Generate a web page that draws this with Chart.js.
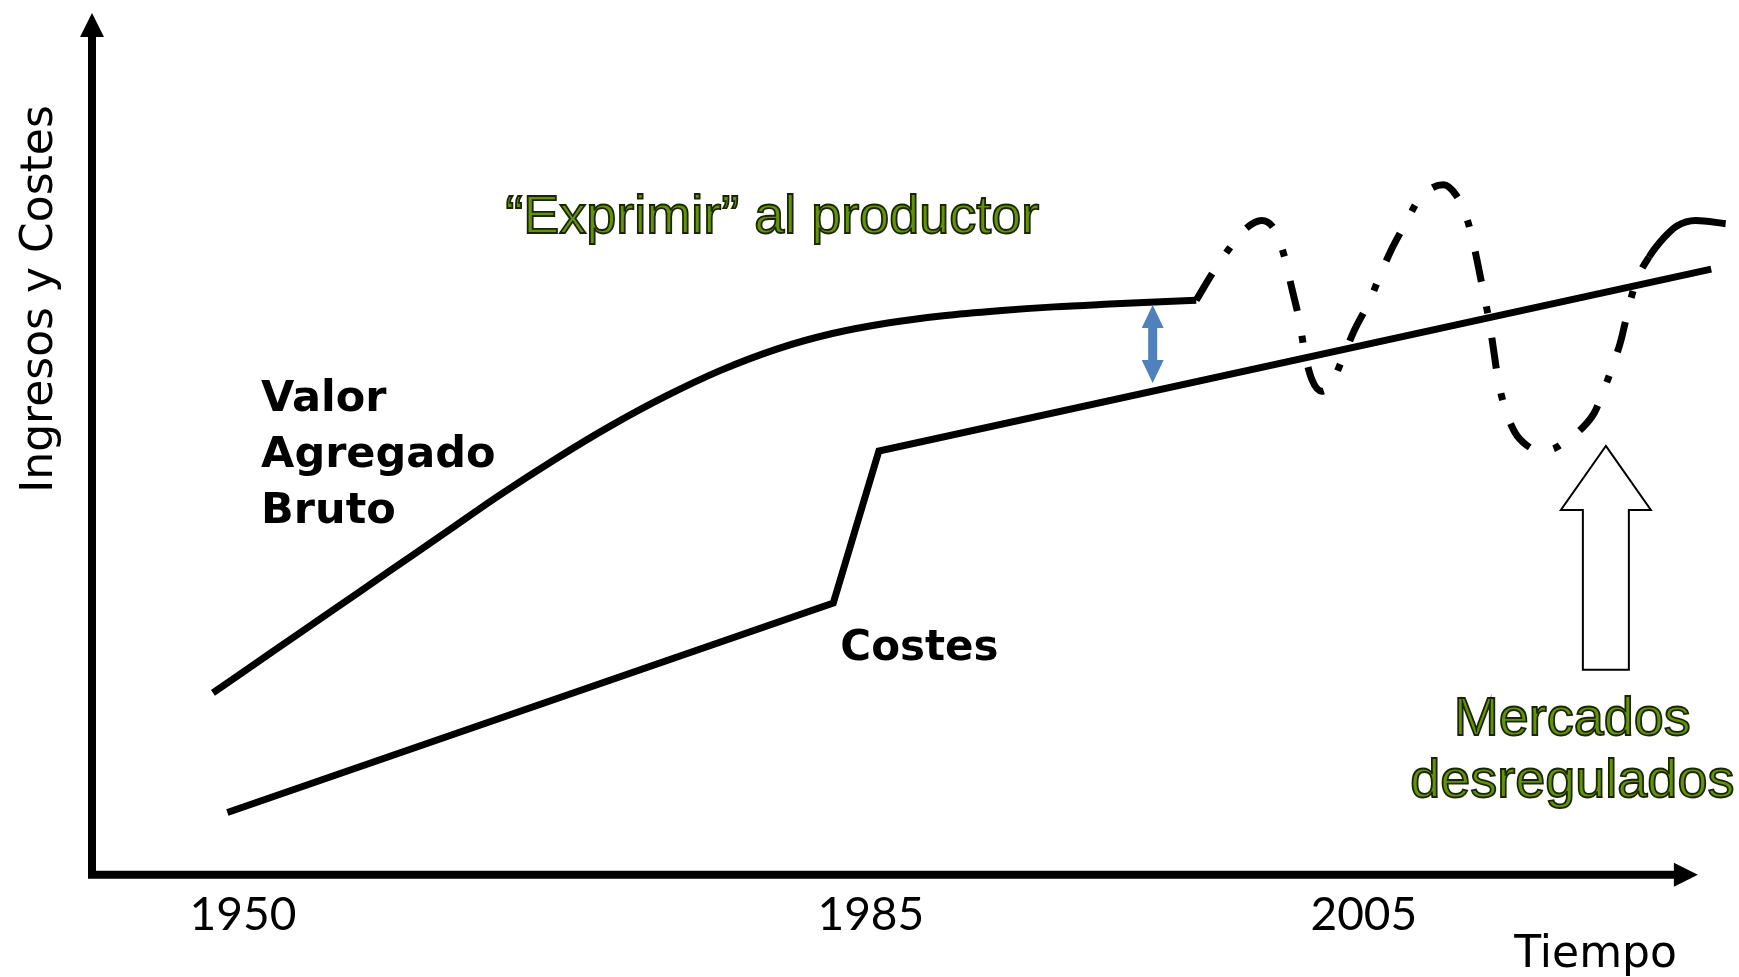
<!DOCTYPE html>
<html lang="es">
<head>
<meta charset="UTF-8">
<title>Valor Agregado Bruto y Costes</title>
<style>
  html, body { margin: 0; padding: 0; background: #fff; }
  #wrap { width: 1739px; height: 977px; }
</style>
</head>
<body>
<div id="wrap"><canvas id="chart"></canvas></div>
<script src="https://cdn.jsdelivr.net/npm/chart.js@4"></script>
<script>
// eje X sin escala real: posiciones relativas (0 = eje Y, 100 = punta de la flecha)
const tickValues = [9.4, 48.5, 79.2];
const tickLabels = ['1950', '1985', '2005'];

// Valor Agregado Bruto (tramo continuo)
const valorX = [7.53, 11.54, 15.00, 18.45, 21.91, 25.36, 28.82, 32.27, 35.73, 39.18, 42.64, 46.10, 49.55, 53.01, 56.46, 59.92, 63.37, 68.76];
const valorY = [21.21, 26.35, 30.78, 35.22, 39.65, 44.09, 48.26, 52.12, 55.59, 58.61, 61.05, 62.85, 64.07, 64.91, 65.49, 65.94, 66.26, 66.71];

// Valor Agregado Bruto con mercados desregulados (tramo volatil)
const volX = [68.76, 69.80, 70.84, 71.80, 72.84, 73.67, 74.22, 74.71, 75.19, 75.54, 75.95, 76.57, 77.19, 77.89,
  78.58, 79.54, 80.17, 80.86, 81.82, 82.58, 83.41, 84.17, 84.93, 85.49, 85.90, 86.32, 86.66, 87.01, 87.28,
  87.56, 87.98, 88.60, 89.36, 90.19, 91.02, 91.78, 92.74, 93.57, 94.19, 94.68, 95.23, 95.65, 96.13, 96.96,
  97.93, 98.69, 99.86, 101.73];
const volY = [66.71, 69.92, 72.75, 74.94, 75.96, 74.81, 71.98, 68.12, 64.27, 60.41, 57.58, 56.17, 57.07, 60.03,
  63.11, 66.58, 69.41, 72.37, 75.71, 78.28, 79.69, 80.08, 78.92, 76.86, 74.29, 70.69, 67.48, 64.27, 60.93,
  57.46, 54.24, 51.41, 49.87, 49.23, 49.49, 50.39, 51.80, 53.73, 56.56, 59.00, 62.21, 65.55, 68.77, 71.72,
  74.04, 75.32, 75.96, 75.58];
const volSolidFrom = 43; // desde aqui la linea vuelve a ser continua

// Costes
const costesX = [8.43, 46.16, 49.00, 100.83];
const costesY = [7.33, 31.62, 49.23, 70.31];

const toPoints = (xs, ys) => xs.map((v, i) => ({x: v, y: ys[i]}));

const GREEN = '#62940a';
const BOLD = 'bold 43px "DejaVu Sans"';
const GREEN_FONT = '54px "Liberation Sans"';

const labels = [
  {text: 'Valor', x: 10.53, y: 53.88, font: BOLD},
  {text: 'Agregado', x: 10.53, y: 47.39, font: BOLD},
  {text: 'Bruto', x: 10.53, y: 40.90, font: BOLD},
  {text: 'Costes', x: 46.60, y: 25.03, font: 'bold 42px "DejaVu Sans"'},
  {text: '\u201cExprimir\u201d al productor', x: 25.73, y: 74.51, font: GREEN_FONT, green: true},
  {text: 'Mercados', x: 92.18, y: 16.34, font: GREEN_FONT, green: true, align: 'center'},
  {text: 'desregulados', x: 92.18, y: 9.15, font: GREEN_FONT, green: true, align: 'center'},
  {text: 'Tiempo', x: 98.69, y: -10.54, font: '44px "DejaVu Sans"', align: 'right'}
];

const sketch = {
  id: 'sketch',
  beforeDatasetsDraw(chart) {
    const {ctx, scales: {x, y}} = chart;
    const x0 = x.getPixelForValue(0), y0 = y.getPixelForValue(0) - 1;
    const xTip = x.getPixelForValue(100), yTip = y.getPixelForValue(100);
    ctx.save();
    ctx.fillStyle = '#000';
    ctx.strokeStyle = '#000';
    ctx.lineWidth = 8;
    ctx.beginPath();
    ctx.moveTo(x0, yTip + 20);
    ctx.lineTo(x0, y0 + 4);
    ctx.moveTo(x0 - 4, y0);
    ctx.lineTo(xTip - 20, y0);
    ctx.stroke();
    ctx.beginPath();
    ctx.moveTo(x0, yTip);
    ctx.lineTo(x0 - 12, yTip + 24);
    ctx.lineTo(x0 + 12, yTip + 24);
    ctx.closePath();
    ctx.fill();
    ctx.beginPath();
    ctx.moveTo(xTip, y0);
    ctx.lineTo(xTip - 24, y0 - 12);
    ctx.lineTo(xTip - 24, y0 + 12);
    ctx.closePath();
    ctx.fill();
    ctx.restore();
  },
  afterDatasetsDraw(chart) {
    const {ctx, scales: {x, y}} = chart;
    ctx.save();

    // flecha azul doble (margen del productor)
    const bx = x.getPixelForValue(66.05);
    const bt = y.getPixelForValue(66.16), bb = y.getPixelForValue(57.13);
    ctx.fillStyle = '#4f81bd';
    ctx.beginPath();
    ctx.moveTo(bx, bt);
    ctx.lineTo(bx + 11, bt + 23);
    ctx.lineTo(bx + 4.5, bt + 23);
    ctx.lineTo(bx + 4.5, bb - 23);
    ctx.lineTo(bx + 11, bb - 23);
    ctx.lineTo(bx, bb);
    ctx.lineTo(bx - 11, bb - 23);
    ctx.lineTo(bx - 4.5, bb - 23);
    ctx.lineTo(bx - 4.5, bt + 23);
    ctx.lineTo(bx - 11, bt + 23);
    ctx.closePath();
    ctx.fill();

    // flecha blanca hacia arriba
    const wx = x.getPixelForValue(94.27);
    const wt = y.getPixelForValue(49.83), wh = y.getPixelForValue(42.41), wb = y.getPixelForValue(23.87);
    ctx.fillStyle = '#fff';
    ctx.strokeStyle = '#000';
    ctx.lineWidth = 2;
    ctx.beginPath();
    ctx.moveTo(wx, wt);
    ctx.lineTo(wx + 45, wh);
    ctx.lineTo(wx + 23, wh);
    ctx.lineTo(wx + 23, wb);
    ctx.lineTo(wx - 23, wb);
    ctx.lineTo(wx - 23, wh);
    ctx.lineTo(wx - 45, wh);
    ctx.closePath();
    ctx.fill();
    ctx.stroke();

    // textos
    ctx.textBaseline = 'alphabetic';
    labels.forEach(l => {
      const px = x.getPixelForValue(l.x), py = y.getPixelForValue(l.y);
      ctx.font = l.font;
      ctx.textAlign = l.align || 'left';
      if (l.green) {
        ctx.fillStyle = GREEN;
        ctx.fillText(l.text, px, py);
        ctx.strokeStyle = '#1a2400';
        ctx.lineWidth = 1.8;
        ctx.strokeText(l.text, px, py);
      } else {
        ctx.fillStyle = '#000';
        ctx.fillText(l.text, px, py);
      }
    });

    // titulo del eje Y
    ctx.translate(x.getPixelForValue(-2.49), y.getPixelForValue(66.86));
    ctx.rotate(-Math.PI / 2);
    ctx.font = '44px "DejaVu Sans"';
    ctx.textAlign = 'center';
    ctx.fillStyle = '#000';
    ctx.fillText('Ingresos y Costes', 0, 0);
    ctx.restore();
  }
};

new Chart(document.getElementById('chart'), {
  type: 'line',
  data: {
    datasets: [
      {
        label: 'Valor Agregado Bruto',
        data: toPoints(valorX, valorY),
        borderColor: '#000',
        borderWidth: 7,
        cubicInterpolationMode: 'monotone',
        pointRadius: 0
      },
      {
        label: 'Mercados desregulados',
        data: toPoints(volX, volY),
        borderColor: '#000',
        borderWidth: 7,
        cubicInterpolationMode: 'monotone',
        pointRadius: 0,
        segment: {
          borderDash: ctx => ctx.p0DataIndex < volSolidFrom ? [31, 25, 7, 25] : []
        }
      },
      {
        label: 'Costes',
        data: toPoints(costesX, costesY),
        borderColor: '#000',
        borderWidth: 7,
        tension: 0,
        pointRadius: 0
      }
    ]
  },
  options: {
    responsive: true,
    maintainAspectRatio: false,
    animation: false,
    layout: {padding: {left: 92, right: 9, top: 13, bottom: 22}},
    plugins: {legend: {display: false}, tooltip: {enabled: false}},
    scales: {
      x: {
        type: 'linear',
        min: 0,
        max: 102,
        grid: {display: false, drawTicks: false},
        border: {display: false},
        afterBuildTicks: scale => { scale.ticks = tickValues.map(v => ({value: v})); },
        ticks: {
          padding: 12,
          color: '#000',
          font: {family: 'Lato', size: 46},
          autoSkip: false,
          maxRotation: 0,
          callback: (value, index) => tickLabels[index]
        }
      },
      y: {
        type: 'linear',
        min: 0,
        max: 100,
        display: false
      }
    }
  },
  plugins: [sketch]
});
</script>
</body>
</html>
